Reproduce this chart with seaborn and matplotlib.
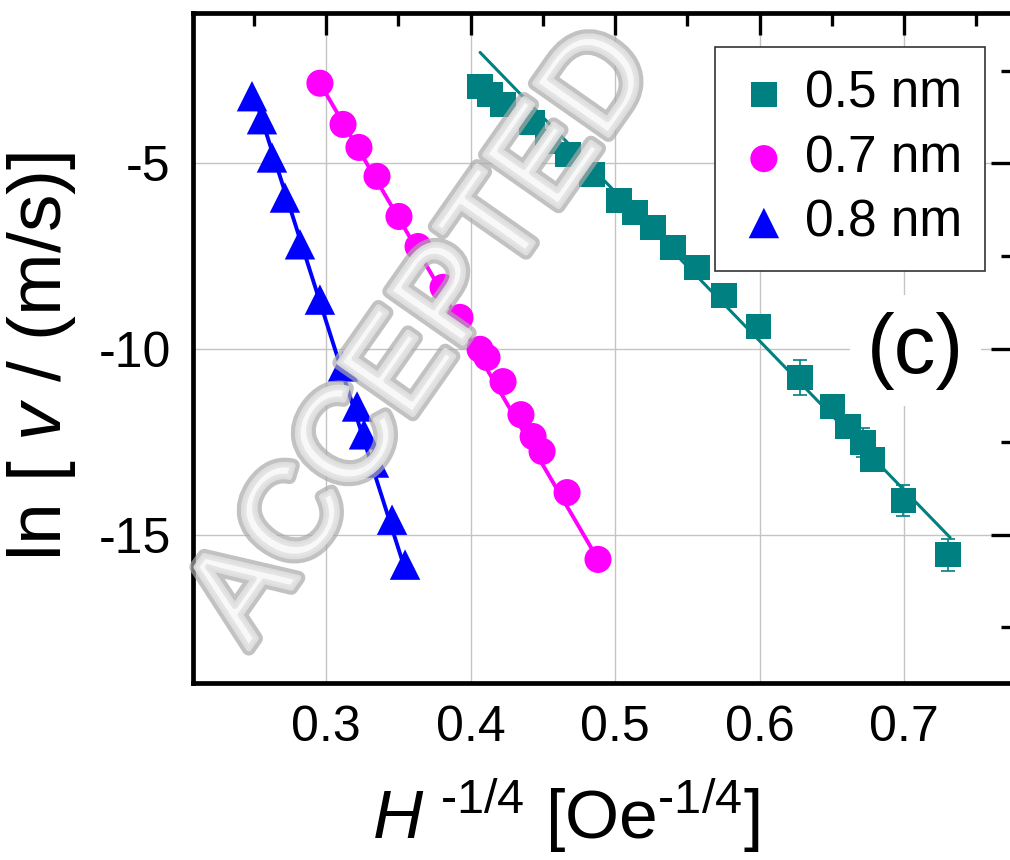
import numpy as np
import pandas as pd
import matplotlib
matplotlib.use('Agg')
import matplotlib.pyplot as plt
import matplotlib.patheffects as pe
from matplotlib.ticker import MultipleLocator
import seaborn as sns

# values: x = H^-1/4 [Oe^-1/4], y = ln(v)
x_05 = [0.4066, 0.4135, 0.4225, 0.4426, 0.4536, 0.4675, 0.4841, 0.5028, 0.5138, 0.5263, 0.5401,
        0.5567, 0.5754, 0.5990, 0.6280, 0.6502, 0.6612, 0.6716, 0.6779, 0.6993, 0.7304]
y_05 = [-2.92, -3.14, -3.41, -3.89, -4.41, -4.76, -5.30, -6.00, -6.32, -6.73, -7.26,
        -7.80, -8.56, -9.39, -10.77, -11.55, -12.09, -12.52, -12.98, -14.08, -15.54]
err_05 = [0.15, 0.15, 0.15, 0.15, 0.15, 0.15, 0.15, 0.15, 0.15, 0.15, 0.15,
          0.15, 0.2, 0.2, 0.46, 0.25, 0.3, 0.38, 0.25, 0.42, 0.43]

x_07 = [0.2958, 0.3118, 0.3228, 0.3353, 0.3505, 0.3637, 0.3810, 0.3927, 0.4066, 0.4114,
        0.4225, 0.4349, 0.4433, 0.4495, 0.4668, 0.4882]
y_07 = [-2.84, -3.95, -4.57, -5.35, -6.43, -7.24, -8.34, -9.15, -10.01, -10.23,
        -10.88, -11.77, -12.36, -12.76, -13.87, -15.67]

x_08 = [0.2488, 0.2557, 0.2626, 0.2716, 0.2820, 0.2958, 0.3118, 0.3215, 0.3263, 0.3332, 0.3457, 0.3547]
y_08 = [-3.19, -3.81, -4.84, -5.92, -7.18, -8.67, -10.47, -11.55, -12.30, -13.06, -14.60, -15.81]

# linear fits (end points)
fit_x_05 = [0.4066, 0.7318]
fit_y_05 = [-2.01, -15.08]
fit_x_07 = [0.2958, 0.4882]
fit_y_07 = [-2.84, -15.67]
fit_x_08 = [0.249, 0.356]
fit_y_08 = [-3.0, -16.1]

labels = ['0.5 nm', '0.7 nm', '0.8 nm']
colors = ['#008080', '#ff00ff', '#0000ff']

sns.set_theme(style='white')
plt.rcParams['font.family'] = ['Liberation Sans', 'DejaVu Sans']
plt.rcParams['mathtext.fontset'] = 'custom'
plt.rcParams['mathtext.rm'] = 'Liberation Sans'
plt.rcParams['mathtext.it'] = 'Liberation Sans:italic'
plt.rcParams['axes.unicode_minus'] = False
plt.rcParams['text.color'] = 'black'
plt.rcParams['axes.labelcolor'] = 'black'
plt.rcParams['xtick.color'] = 'black'
plt.rcParams['ytick.color'] = 'black'

fig = plt.figure(figsize=(10.1, 8.6), dpi=100)
ax = fig.add_axes([0.1911, 0.2058, 0.812, 0.779])

ax.grid(True, which='major', color='#c4c4c4', linewidth=1.0)
ax.set_axisbelow(True)

sns.lineplot(x=fit_x_05, y=fit_y_05, color=colors[0], linewidth=2.2, ax=ax, legend=False, zorder=3)
sns.lineplot(x=fit_x_07, y=fit_y_07, color=colors[1], linewidth=2.8, ax=ax, legend=False, zorder=3)
sns.lineplot(x=fit_x_08, y=fit_y_08, color=colors[2], linewidth=2.8, ax=ax, legend=False, zorder=3)

ax.errorbar(x_05, y_05, yerr=err_05, fmt='none', ecolor=colors[0], elinewidth=1.2,
            capsize=5, capthick=1.2, zorder=2)

sns.scatterplot(x=x_05, y=y_05, marker='s', s=330, color=colors[0], edgecolor='none',
                linewidth=0, label=labels[0], ax=ax, zorder=4)
sns.scatterplot(x=x_07, y=y_07, marker='o', s=380, color=colors[1], edgecolor='none',
                linewidth=0, label=labels[1], ax=ax, zorder=4)
sns.scatterplot(x=x_08, y=y_08, marker='^', s=480, color=colors[2], edgecolor='none',
                linewidth=0, label=labels[2], ax=ax, zorder=4)

ax.set_xlim(0.208, 0.7754)
ax.set_ylim(-19, -0.95)
ax.xaxis.set_major_locator(MultipleLocator(0.1))
ax.xaxis.set_minor_locator(MultipleLocator(0.05))
ax.yaxis.set_major_locator(MultipleLocator(5))
ax.yaxis.set_minor_locator(MultipleLocator(2.5))

for s in ax.spines.values():
    s.set_linewidth(3.4)
    s.set_color('black')
ax.tick_params(which='both', direction='in', top=True, right=True, width=2.4, color='black')
ax.tick_params(which='major', length=16, labelsize=36)
ax.tick_params(axis='x', which='major', pad=16)
ax.tick_params(axis='y', which='major', pad=16)
ax.tick_params(which='minor', length=9)

ax.set_xlabel(r'$\mathit{H}^{\ \text{-1/4}}$ [Oe$^{\text{-1/4}}$]', fontsize=50)
ax.xaxis.set_label_coords(0.454, -0.14)
ax.set_ylabel(r'ln [ $\mathit{v}$ / (m/s)]', fontsize=54)
ax.yaxis.set_label_coords(-0.14, 0.487)

ax.text(0.708, -10.05, '(c)', fontsize=60, ha='center', va='center', zorder=5,
        bbox=dict(facecolor='white', edgecolor='none', pad=12))

leg = ax.legend(loc='upper right', bbox_to_anchor=(0.966, 0.95), fontsize=37,
                frameon=True, fancybox=False, framealpha=1, edgecolor='#333333',
                borderpad=0.45, labelspacing=0.3, handletextpad=0.3, handlelength=1.0,
                borderaxespad=0)
leg.get_frame().set_linewidth(1.2)
leg.set_zorder(6)

# manuscript watermark
fig.text(0.42, 0.607, 'ACCEPTED', fontsize=94, rotation=55, ha='center', va='center',
         color=(1, 1, 1, 0), zorder=10,
         path_effects=[pe.Stroke(linewidth=10, foreground='#a9a9a9', alpha=0.7),
                       pe.Stroke(linewidth=4, foreground='#e2e2e2', alpha=0.9)])

fig.savefig('out.png', dpi=100)
